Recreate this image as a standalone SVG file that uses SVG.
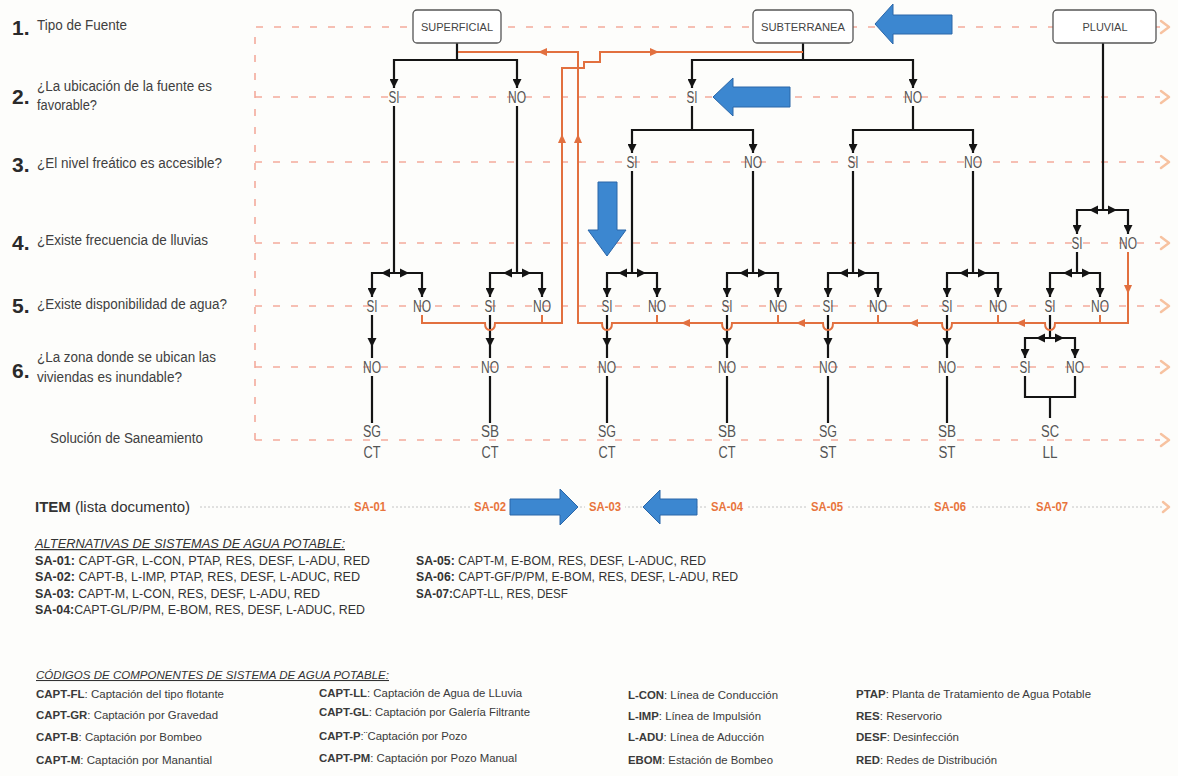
<svg xmlns="http://www.w3.org/2000/svg" xmlns:xlink="http://www.w3.org/1999/xlink" width="1178" height="776" viewBox="0 0 1178 776">
<style>
text{font-family:"Liberation Sans",Arial,sans-serif}
.q{font-size:14px;fill:#404040}
.n{font-size:21px;font-weight:bold;fill:#2a2a2a}
.l{font-size:16px;fill:#555;text-anchor:middle}
.bx{fill:#fff;stroke:#555;stroke-width:1.3}
.bt{font-size:10.5px;fill:#444;text-anchor:middle}
.g{stroke:#f3aa9c;stroke-width:1.6;stroke-dasharray:7 11;fill:none}
.cv{stroke:#f7c2a0;stroke-width:2.4;fill:none;stroke-linecap:round;stroke-linejoin:round}
.k{stroke:#141414;stroke-width:2.2;fill:none}
.ka{stroke:#141414;stroke-width:2.2;fill:none;marker-start:url(#ak);marker-end:url(#ak)}
.o{stroke:#e2703f;stroke-width:2;fill:none}
.bl{fill:#3c87d0;stroke:#2a66a8;stroke-width:1}
.sa{font-size:12px;font-weight:bold;fill:#e8743b;text-anchor:middle}
.t{font-size:12.5px;fill:#333}
.c{font-size:11px;fill:#3a3a3a}
.b{font-weight:bold}
.h{font-style:italic;text-decoration:underline;fill:#333}
</style>
<defs>
<marker id="ak" viewBox="0 0 10 10" refX="10" refY="5" markerWidth="9" markerHeight="9" markerUnits="userSpaceOnUse" orient="auto-start-reverse"><path d="M0,0 L10,5 L0,10 Z" fill="#141414"/></marker>
<path id="tk" d="M0,0 L-9,-4.5 L-9,4.5 Z" fill="#141414"/>
<path id="to" d="M0,0 L-9,-4 L-9,4 Z" fill="#e2703f"/>
</defs>
<rect width="1178" height="776" fill="#fdfdfb"/>

<g id="grid">
<path class="g" d="M255,440 V27 H1160 M255,97 H1160 M255,162 H1160 M255,243 H1160 M255,306 H1160 M255,367 H1160 M255,440 H1160"/>
<path class="cv" d="M1161,21 L1169,27 L1161,33 M1161,91 L1169,97 L1161,103 M1161,156 L1169,162 L1161,168 M1161,237 L1169,243 L1161,249 M1161,300 L1169,306 L1161,312 M1161,361 L1169,367 L1161,373 M1161,434 L1169,440 L1161,446"/>
<path d="M200,507 H1163" stroke="#c4c4c4" stroke-width="1" stroke-dasharray="2 2"/>
<path class="cv" d="M1163,502 L1169,507 L1163,512" stroke-width="1.6"/>
</g>

<g id="questions">
<text class="n" x="12" y="35">1.</text><text class="q" x="37" y="30" textLength="90" lengthAdjust="spacingAndGlyphs">Tipo de Fuente</text>
<text class="n" x="12" y="104">2.</text><text class="q" x="37" y="91" textLength="175" lengthAdjust="spacingAndGlyphs">¿La ubicación de la fuente es</text><text class="q" x="37" y="110" textLength="60" lengthAdjust="spacingAndGlyphs">favorable?</text>
<text class="n" x="12" y="172">3.</text><text class="q" x="37" y="168" textLength="185" lengthAdjust="spacingAndGlyphs">¿El nivel freático es accesible?</text>
<text class="n" x="12" y="250">4.</text><text class="q" x="37" y="245" textLength="171" lengthAdjust="spacingAndGlyphs">¿Existe frecuencia de lluvias</text>
<text class="n" x="12" y="313">5.</text><text class="q" x="37" y="309" textLength="190" lengthAdjust="spacingAndGlyphs">¿Existe disponibilidad de agua?</text>
<text class="n" x="12" y="378">6.</text><text class="q" x="37" y="362" textLength="179" lengthAdjust="spacingAndGlyphs">¿La zona donde se ubican las</text><text class="q" x="37" y="382" textLength="145" lengthAdjust="spacingAndGlyphs">viviendas es inundable?</text>
<text class="q" x="50" y="443" textLength="153" lengthAdjust="spacingAndGlyphs">Solución de Saneamiento</text>
<text x="35" y="512" font-size="14" fill="#333" textLength="155" lengthAdjust="spacingAndGlyphs"><tspan class="b">ITEM</tspan> (lista documento)</text>
</g>

<g id="connectors">
<path class="k" d="M457,43 V60 M803,43 V60 M1103,43 V210 M394,106 V273 M517,106 V273 M692,106 V130 M913,106 V130 M632,171 V273 M753,171 V273 M853,171 V273 M973,171 V273 M1077,252 V273 M1050,315 V338"/>
<path class="ka" d="M394,88 V60 H517 V88"/>
<path class="ka" d="M692,88 V60 H913 V88"/>
<path class="ka" d="M632,153 V130 H753 V153"/>
<path class="ka" d="M853,153 V130 H973 V153"/>
<path class="ka" d="M1077,234 V210 H1128 V234"/>
<path class="ka" d="M372,297 V273 H422 V297"/>
<path class="ka" d="M490,297 V273 H542 V297"/>
<path class="ka" d="M607,297 V273 H657 V297"/>
<path class="ka" d="M727,297 V273 H778 V297"/>
<path class="ka" d="M828,297 V273 H878 V297"/>
<path class="ka" d="M947,297 V273 H998 V297"/>
<path class="ka" d="M1050,297 V273 H1100 V297"/>
<path class="ka" d="M1025,358 V338 H1075 V358"/>
<g id="barArrows">
<use xlink:href="#tk" transform="translate(1089,210) rotate(180)"/><use xlink:href="#tk" transform="translate(1117,210)"/>
<use xlink:href="#tk" transform="translate(381,273) rotate(180)"/><use xlink:href="#tk" transform="translate(409,273)"/>
<use xlink:href="#tk" transform="translate(503,273) rotate(180)"/><use xlink:href="#tk" transform="translate(531,273)"/>
<use xlink:href="#tk" transform="translate(618,273) rotate(180)"/><use xlink:href="#tk" transform="translate(646,273)"/>
<use xlink:href="#tk" transform="translate(739,273) rotate(180)"/><use xlink:href="#tk" transform="translate(767,273)"/>
<use xlink:href="#tk" transform="translate(839,273) rotate(180)"/><use xlink:href="#tk" transform="translate(867,273)"/>
<use xlink:href="#tk" transform="translate(959,273) rotate(180)"/><use xlink:href="#tk" transform="translate(987,273)"/>
<use xlink:href="#tk" transform="translate(1063,273) rotate(180)"/><use xlink:href="#tk" transform="translate(1091,273)"/>
<use xlink:href="#tk" transform="translate(1036,338) rotate(180)"/><use xlink:href="#tk" transform="translate(1064,338)"/>
</g>
<path class="k" d="M372,315 V358 M490,315 V358 M607,315 V358 M727,315 V358 M828,315 V358 M947,315 V358"/>
<use xlink:href="#tk" transform="translate(372,347) rotate(90)"/><use xlink:href="#tk" transform="translate(490,347) rotate(90)"/><use xlink:href="#tk" transform="translate(607,347) rotate(90)"/><use xlink:href="#tk" transform="translate(727,347) rotate(90)"/><use xlink:href="#tk" transform="translate(828,347) rotate(90)"/><use xlink:href="#tk" transform="translate(947,347) rotate(90)"/>
<path class="k" d="M372,376 V423 M490,376 V423 M607,376 V423 M727,376 V423 M828,376 V423 M947,376 V423 M1025,376 V397 H1075 V376 M1050,397 V418"/>
<path class="o" d="M1128,252 V323 H1055 q0,7 -5,7 q-5,0 -5,-7 H952 q0,7 -5,7 q-5,0 -5,-7 H833 q0,7 -5,7 q-5,0 -5,-7 H732 q0,7 -5,7 q-5,0 -5,-7 H612 q0,7 -5,7 q-5,0 -5,-7 H578 V52 H458"/>
<path class="o" d="M422,315 V323 H485 q0,7 5,7 q5,0 5,-7 H562 V68 H584 V62 H600 V52 H803"/>
<path class="o" d="M542,315 V323 M657,315 V323 M778,315 V323 M878,315 V323 M998,315 V323 M1100,315 V323"/>
<use xlink:href="#to" transform="translate(1128,294) rotate(90)"/>
<use xlink:href="#to" transform="translate(1016,323) rotate(180)"/>
<use xlink:href="#to" transform="translate(909,323) rotate(180)"/>
<use xlink:href="#to" transform="translate(796,323) rotate(180)"/>
<use xlink:href="#to" transform="translate(681,323) rotate(180)"/>
<use xlink:href="#to" transform="translate(578,134) rotate(-90)"/>
<use xlink:href="#to" transform="translate(562,134) rotate(-90)"/>
<use xlink:href="#to" transform="translate(538,52) rotate(180)"/>
<use xlink:href="#to" transform="translate(659,52)"/>
</g>

<g id="n-superficial"><rect class="bx" x="413" y="10" width="88" height="33" rx="4"/><text class="bt" x="457" y="31" textLength="72" lengthAdjust="spacingAndGlyphs">SUPERFICIAL</text></g>
<g id="n-subterranea"><rect class="bx" x="753" y="10" width="100" height="33" rx="4"/><text class="bt" x="803" y="31" textLength="84" lengthAdjust="spacingAndGlyphs">SUBTERRANEA</text></g>
<g id="n-pluvial"><rect class="bx" x="1053" y="10" width="103" height="33" rx="4"/><text class="bt" x="1105" y="31" textLength="45" lengthAdjust="spacingAndGlyphs">PLUVIAL</text></g>

<g id="row2">
<g id="r2-1"><text class="l" x="394" y="103" textLength="11" lengthAdjust="spacingAndGlyphs">SI</text></g>
<g id="r2-2"><text class="l" x="517" y="103" textLength="18" lengthAdjust="spacingAndGlyphs">NO</text></g>
<g id="r2-3"><text class="l" x="692" y="103" textLength="11" lengthAdjust="spacingAndGlyphs">SI</text></g>
<g id="r2-4"><text class="l" x="913" y="103" textLength="18" lengthAdjust="spacingAndGlyphs">NO</text></g>
</g>
<g id="row3">
<g id="r3-1"><text class="l" x="632" y="168" textLength="11" lengthAdjust="spacingAndGlyphs">SI</text></g>
<g id="r3-2"><text class="l" x="753" y="168" textLength="18" lengthAdjust="spacingAndGlyphs">NO</text></g>
<g id="r3-3"><text class="l" x="853" y="168" textLength="11" lengthAdjust="spacingAndGlyphs">SI</text></g>
<g id="r3-4"><text class="l" x="973" y="168" textLength="18" lengthAdjust="spacingAndGlyphs">NO</text></g>
</g>
<g id="row4">
<g id="r4-1"><text class="l" x="1077" y="249" textLength="11" lengthAdjust="spacingAndGlyphs">SI</text></g>
<g id="r4-2"><text class="l" x="1128" y="249" textLength="18" lengthAdjust="spacingAndGlyphs">NO</text></g>
</g>
<g id="row5">
<g id="r5-1"><text class="l" x="372" y="312" textLength="11" lengthAdjust="spacingAndGlyphs">SI</text></g>
<g id="r5-2"><text class="l" x="422" y="312" textLength="18" lengthAdjust="spacingAndGlyphs">NO</text></g>
<g id="r5-3"><text class="l" x="490" y="312" textLength="11" lengthAdjust="spacingAndGlyphs">SI</text></g>
<g id="r5-4"><text class="l" x="542" y="312" textLength="18" lengthAdjust="spacingAndGlyphs">NO</text></g>
<g id="r5-5"><text class="l" x="607" y="312" textLength="11" lengthAdjust="spacingAndGlyphs">SI</text></g>
<g id="r5-6"><text class="l" x="657" y="312" textLength="18" lengthAdjust="spacingAndGlyphs">NO</text></g>
<g id="r5-7"><text class="l" x="727" y="312" textLength="11" lengthAdjust="spacingAndGlyphs">SI</text></g>
<g id="r5-8"><text class="l" x="778" y="312" textLength="18" lengthAdjust="spacingAndGlyphs">NO</text></g>
<g id="r5-9"><text class="l" x="828" y="312" textLength="11" lengthAdjust="spacingAndGlyphs">SI</text></g>
<g id="r5-10"><text class="l" x="878" y="312" textLength="18" lengthAdjust="spacingAndGlyphs">NO</text></g>
<g id="r5-11"><text class="l" x="947" y="312" textLength="11" lengthAdjust="spacingAndGlyphs">SI</text></g>
<g id="r5-12"><text class="l" x="998" y="312" textLength="18" lengthAdjust="spacingAndGlyphs">NO</text></g>
<g id="r5-13"><text class="l" x="1050" y="312" textLength="11" lengthAdjust="spacingAndGlyphs">SI</text></g>
<g id="r5-14"><text class="l" x="1100" y="312" textLength="18" lengthAdjust="spacingAndGlyphs">NO</text></g>
</g>
<g id="row6">
<g id="r6-1"><text class="l" x="372" y="373" textLength="18" lengthAdjust="spacingAndGlyphs">NO</text></g>
<g id="r6-2"><text class="l" x="490" y="373" textLength="18" lengthAdjust="spacingAndGlyphs">NO</text></g>
<g id="r6-3"><text class="l" x="607" y="373" textLength="18" lengthAdjust="spacingAndGlyphs">NO</text></g>
<g id="r6-4"><text class="l" x="727" y="373" textLength="18" lengthAdjust="spacingAndGlyphs">NO</text></g>
<g id="r6-5"><text class="l" x="828" y="373" textLength="18" lengthAdjust="spacingAndGlyphs">NO</text></g>
<g id="r6-6"><text class="l" x="947" y="373" textLength="18" lengthAdjust="spacingAndGlyphs">NO</text></g>
<g id="r6-7"><text class="l" x="1025" y="373" textLength="11" lengthAdjust="spacingAndGlyphs">SI</text></g>
<g id="r6-8"><text class="l" x="1075" y="373" textLength="18" lengthAdjust="spacingAndGlyphs">NO</text></g>
</g>
<g id="solutions">
<g id="s1"><text class="l" x="372" y="437" textLength="18" lengthAdjust="spacingAndGlyphs">SG</text><text class="l" x="372" y="458" textLength="17" lengthAdjust="spacingAndGlyphs">CT</text></g>
<g id="s2"><text class="l" x="490" y="437" textLength="18" lengthAdjust="spacingAndGlyphs">SB</text><text class="l" x="490" y="458" textLength="17" lengthAdjust="spacingAndGlyphs">CT</text></g>
<g id="s3"><text class="l" x="607" y="437" textLength="18" lengthAdjust="spacingAndGlyphs">SG</text><text class="l" x="607" y="458" textLength="17" lengthAdjust="spacingAndGlyphs">CT</text></g>
<g id="s4"><text class="l" x="727" y="437" textLength="18" lengthAdjust="spacingAndGlyphs">SB</text><text class="l" x="727" y="458" textLength="17" lengthAdjust="spacingAndGlyphs">CT</text></g>
<g id="s5"><text class="l" x="828" y="437" textLength="18" lengthAdjust="spacingAndGlyphs">SG</text><text class="l" x="828" y="458" textLength="17" lengthAdjust="spacingAndGlyphs">ST</text></g>
<g id="s6"><text class="l" x="947" y="437" textLength="18" lengthAdjust="spacingAndGlyphs">SB</text><text class="l" x="947" y="458" textLength="17" lengthAdjust="spacingAndGlyphs">ST</text></g>
<g id="s7"><text class="l" x="1050" y="437" textLength="18" lengthAdjust="spacingAndGlyphs">SC</text><text class="l" x="1050" y="458" textLength="15" lengthAdjust="spacingAndGlyphs">LL</text></g>
</g>

<g id="items">
<rect x="350" y="498" width="40" height="18" fill="#fdfdfb"/><text class="sa" x="370" y="511" textLength="32" lengthAdjust="spacingAndGlyphs">SA-01</text>
<rect x="470" y="498" width="40" height="18" fill="#fdfdfb"/><text class="sa" x="490" y="511" textLength="32" lengthAdjust="spacingAndGlyphs">SA-02</text>
<rect x="585" y="498" width="40" height="18" fill="#fdfdfb"/><text class="sa" x="605" y="511" textLength="32" lengthAdjust="spacingAndGlyphs">SA-03</text>
<rect x="707" y="498" width="40" height="18" fill="#fdfdfb"/><text class="sa" x="727" y="511" textLength="32" lengthAdjust="spacingAndGlyphs">SA-04</text>
<rect x="807" y="498" width="40" height="18" fill="#fdfdfb"/><text class="sa" x="827" y="511" textLength="32" lengthAdjust="spacingAndGlyphs">SA-05</text>
<rect x="930" y="498" width="40" height="18" fill="#fdfdfb"/><text class="sa" x="950" y="511" textLength="32" lengthAdjust="spacingAndGlyphs">SA-06</text>
<rect x="1032" y="498" width="40" height="18" fill="#fdfdfb"/><text class="sa" x="1052" y="511" textLength="32" lengthAdjust="spacingAndGlyphs">SA-07</text>
</g>

<g id="blue-arrows">
<polygon class="bl" points="875,24 893,4 893,15 952,15 952,34 893,34 893,44"/>
<polygon class="bl" points="713,97 733,78 733,87 790,87 790,107 733,107 733,116"/>
<polygon class="bl" points="598,182 617,182 617,230 626,230 607,256 588,230 598,230"/>
<polygon class="bl" points="578,507 560,489 560,499 510,499 510,515 560,515 560,525"/>
<polygon class="bl" points="643,507 660,490 660,499 697,499 697,515 660,515 660,524"/>
</g>

<g id="legend">
<text class="h" x="35" y="548" font-size="12.5" textLength="310" lengthAdjust="spacingAndGlyphs">ALTERNATIVAS DE SISTEMAS DE AGUA POTABLE:</text>
<text class="t" x="35" y="565" textLength="335" lengthAdjust="spacingAndGlyphs"><tspan class="b">SA-01:</tspan> CAPT-GR, L-CON, PTAP, RES, DESF, L-ADU, RED</text>
<text class="t" x="35" y="581" textLength="325" lengthAdjust="spacingAndGlyphs"><tspan class="b">SA-02:</tspan> CAPT-B, L-IMP, PTAP, RES, DESF, L-ADUC, RED</text>
<text class="t" x="35" y="598" textLength="285" lengthAdjust="spacingAndGlyphs"><tspan class="b">SA-03:</tspan> CAPT-M, L-CON, RES, DESF, L-ADU, RED</text>
<text class="t" x="35" y="614" textLength="330" lengthAdjust="spacingAndGlyphs"><tspan class="b">SA-04:</tspan>CAPT-GL/P/PM, E-BOM, RES, DESF, L-ADUC, RED</text>
<text class="t" x="416" y="565" textLength="290" lengthAdjust="spacingAndGlyphs"><tspan class="b">SA-05:</tspan> CAPT-M, E-BOM, RES, DESF, L-ADUC, RED</text>
<text class="t" x="416" y="581" textLength="322" lengthAdjust="spacingAndGlyphs"><tspan class="b">SA-06:</tspan> CAPT-GF/P/PM, E-BOM, RES, DESF, L-ADU, RED</text>
<text class="t" x="416" y="598" textLength="152" lengthAdjust="spacingAndGlyphs"><tspan class="b">SA-07:</tspan>CAPT-LL, RES, DESF</text>

<text class="h" x="36" y="679" font-size="10.5" textLength="353" lengthAdjust="spacingAndGlyphs">CÓDIGOS DE COMPONENTES DE SISTEMA DE AGUA POTABLE:</text>
<text class="c" x="36" y="698" textLength="188" lengthAdjust="spacingAndGlyphs"><tspan class="b">CAPT-FL</tspan>: Captación del tipo flotante</text>
<text class="c" x="36" y="719" textLength="182" lengthAdjust="spacingAndGlyphs"><tspan class="b">CAPT-GR</tspan>: Captación por Gravedad</text>
<text class="c" x="36" y="741" textLength="166" lengthAdjust="spacingAndGlyphs"><tspan class="b">CAPT-B</tspan>: Captación por Bombeo</text>
<text class="c" x="36" y="764" textLength="176" lengthAdjust="spacingAndGlyphs"><tspan class="b">CAPT-M</tspan>: Captación por Manantial</text>
<text class="c" x="319" y="697" textLength="203" lengthAdjust="spacingAndGlyphs"><tspan class="b">CAPT-LL</tspan>: Captación de Agua de LLuvia</text>
<text class="c" x="319" y="716" textLength="211" lengthAdjust="spacingAndGlyphs"><tspan class="b">CAPT-GL</tspan>: Captación por Galería Filtrante</text>
<text class="c" x="319" y="740" textLength="148" lengthAdjust="spacingAndGlyphs"><tspan class="b">CAPT-P</tspan>:¨Captación por Pozo</text>
<text class="c" x="319" y="762" textLength="198" lengthAdjust="spacingAndGlyphs"><tspan class="b">CAPT-PM</tspan>: Captación por Pozo Manual</text>
<text class="c" x="628" y="699" textLength="150" lengthAdjust="spacingAndGlyphs"><tspan class="b">L-CON</tspan>: Línea de Conducción</text>
<text class="c" x="628" y="720" textLength="133" lengthAdjust="spacingAndGlyphs"><tspan class="b">L-IMP</tspan>: Línea de Impulsión</text>
<text class="c" x="628" y="741" textLength="136" lengthAdjust="spacingAndGlyphs"><tspan class="b">L-ADU</tspan>: Línea de Aducción</text>
<text class="c" x="628" y="764" textLength="145" lengthAdjust="spacingAndGlyphs"><tspan class="b">EBOM</tspan>: Estación de Bombeo</text>
<text class="c" x="856" y="698" textLength="235" lengthAdjust="spacingAndGlyphs"><tspan class="b">PTAP</tspan>: Planta de Tratamiento de Agua Potable</text>
<text class="c" x="856" y="720" textLength="86" lengthAdjust="spacingAndGlyphs"><tspan class="b">RES</tspan>: Reservorio</text>
<text class="c" x="856" y="741" textLength="103" lengthAdjust="spacingAndGlyphs"><tspan class="b">DESF</tspan>: Desinfección</text>
<text class="c" x="856" y="764" textLength="141" lengthAdjust="spacingAndGlyphs"><tspan class="b">RED</tspan>: Redes de Distribución</text>
</g>
</svg>
